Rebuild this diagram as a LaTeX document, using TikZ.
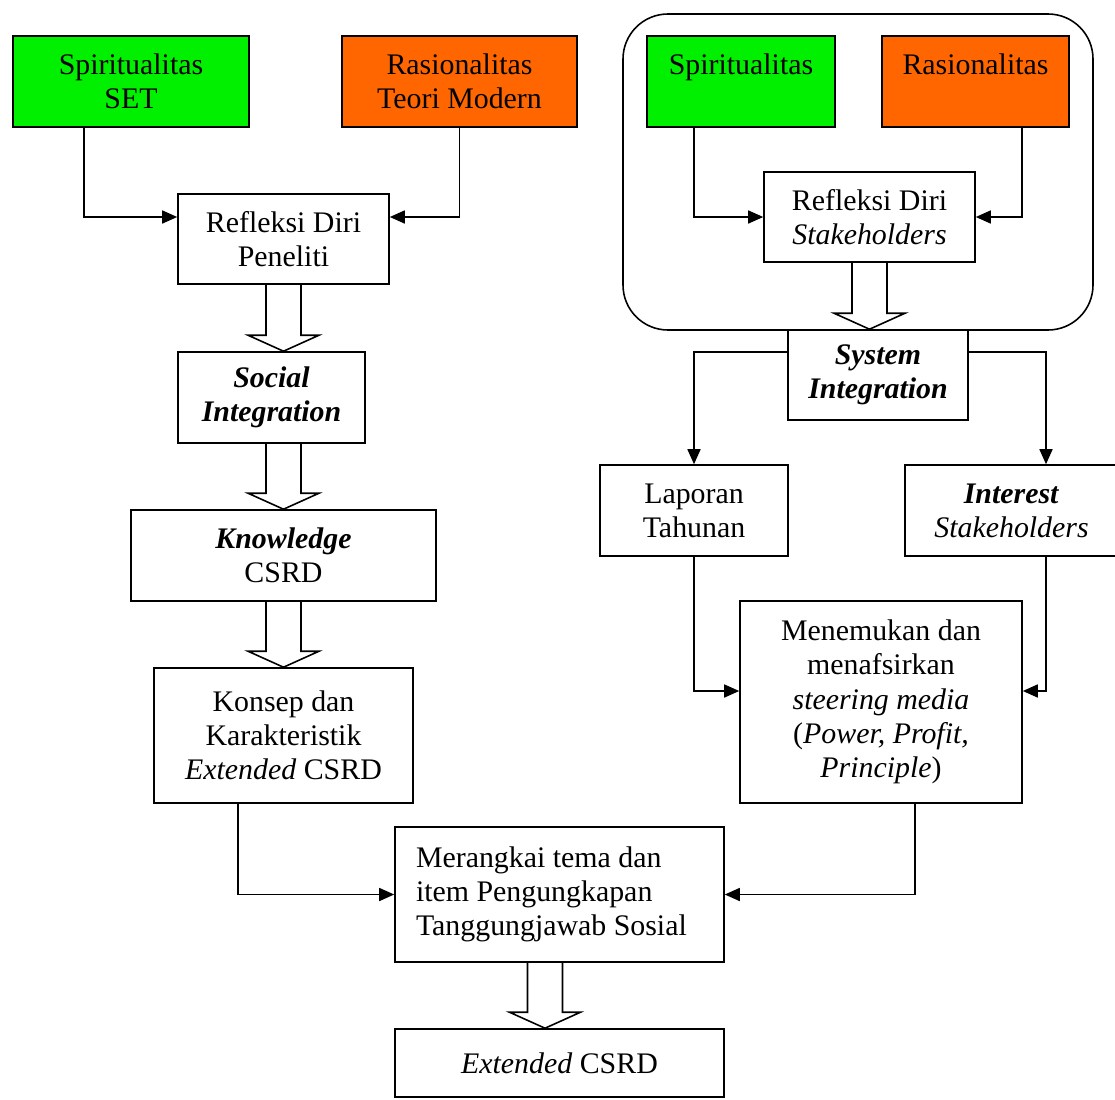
\documentclass[tikz,border=0pt]{standalone}
\usepackage{fontspec}
\setmainfont{Liberation Serif}
\usepackage{tikz}
\usetikzlibrary{arrows.meta,calc}
\definecolor{grn}{RGB}{0,240,0}
\definecolor{org}{RGB}{255,102,0}
\newcommand{\bi}[1]{\textbf{\textit{#1}}}
%% hollow block arrow: #1 tail point, #2 tip point
\newcommand{\blockarrow}[2]{%
\draw[barrow] ($(#1)+(-17.5,0)$) -- ($(#2)+(-17.5,-16)$) -- ($(#2)+(-35.5,-16)$) -- (#2)
  -- ($(#2)+(35.5,-16)$) -- ($(#2)+(17.5,-16)$) -- ($(#1)+(17.5,0)$);}

\begin{document}
\begin{tikzpicture}[x=0.02cm,y=-0.02cm,
  box/.style={draw,line width=.9pt,align=center,inner sep=2pt,
    font=\fontsize{17}{19.5}\selectfont},
  sz/.style 2 args={minimum width=#1*0.02cm,minimum height=#2*0.02cm},
  conn/.style={line width=.9pt,-{Triangle[length=0.3cm,width=0.26cm]}},
  barrow/.style={line width=.9pt,line join=miter}]
\useasboundingbox (0,0) rectangle (1115,1099);
%% left chain
\node[box,sz={236}{91},fill=grn] (spiL) at (131,81.5) {Spiritualitas\\SET};
\node[box,sz={235}{91},fill=org] (rasL) at (459.5,81.5) {Rasionalitas\\Teori Modern};
\node[box,sz={211}{90}] (refL) at (283.5,239) {Refleksi Diri\\Peneliti};
\node[box,sz={187}{91}] (socL) at (271.5,397.5) {\bi{Social}\\\bi{Integration}};
\node[box,sz={305}{91}] (knoL) at (283.5,555.5) {\bi{Knowledge}\\CSRD};
\node[box,sz={259}{135}] (konL) at (283.5,735.5) {Konsep dan\\Karakteristik\\\textit{Extended} CSRD};
%% right chain
\draw[line width=.9pt,rounded corners=45*0.02cm] (623,14) rectangle (1093,330);
\node[box,sz={188}{91},fill=grn] (spiR) at (741,81.5) {Spiritualitas\\\mbox{}};
\node[box,sz={187}{91},fill=org] (rasR) at (975.5,81.5) {Rasionalitas\\\mbox{}};
\node[box,sz={211}{90}] (refR) at (869.5,217) {Refleksi Diri\\\textit{Stakeholders}};
\node[box,sz={180}{90}] (sysR) at (878,375) {\bi{System}\\\bi{Integration}};
\node[box,sz={188}{91}] (lapR) at (694,510.5) {Laporan\\Tahunan};
\node[box,sz={213}{91}] (intR) at (1011.5,510.5) {\bi{Interest}\\\textit{Stakeholders}};
\node[box,sz={282}{202}] (menR) at (881,702) {Menemukan dan\\menafsirkan\\\textit{steering media}\\(\textit{Power, Profit,}\\\textit{Principle})};
%% bottom
\node[box,sz={329}{135},align=flush left,text width=287*0.02cm] (mer) at (559.5,894.5) {Merangkai tema dan\\item Pengungkapan\\Tanggungjawab Sosial};
\node[box,sz={329}{68}] (ext) at (559.5,1063) {\textit{Extended} CSRD};
%% block arrows
\blockarrow{refL.south}{refL.south |- socL.north}
\blockarrow{knoL.north |- socL.south}{knoL.north}
\blockarrow{knoL.south}{konL.north}
\coordinate (mtail) at ($(mer.south)+(-14.5,0)$);
\blockarrow{mtail}{mtail |- ext.north}
\blockarrow{refR.south}{refR.south |- sysR.north}
%% connectors
\draw[conn] ($(spiL.south)+(-47,0)$) |- ($(refL.west)+(0,-22)$);
\draw[conn] (rasL.south) |- ($(refL.east)+(0,-22)$);
\draw[conn] ($(spiR.south)+(-47,0)$) |- (refR.west);
\draw[conn] ($(rasR.south)+(46.5,0)$) |- (refR.east);
\draw[conn] ($(sysR.west)+(0,-23)$) -| (lapR.north);
\draw[conn] ($(sysR.east)+(0,-23)$) -| ($(intR.north)+(34.5,0)$);
\draw[conn] (lapR.south) |- ($(menR.west)+(0,-11)$);
\draw[conn] ($(intR.south)+(34.5,0)$) |- ($(menR.east)+(0,-11)$);
\draw[conn] ($(konL.south)+(-45.5,0)$) |- (mer.west);
\draw[conn] ($(menR.south)+(34,0)$) |- (mer.east);
\end{tikzpicture}
\end{document}
